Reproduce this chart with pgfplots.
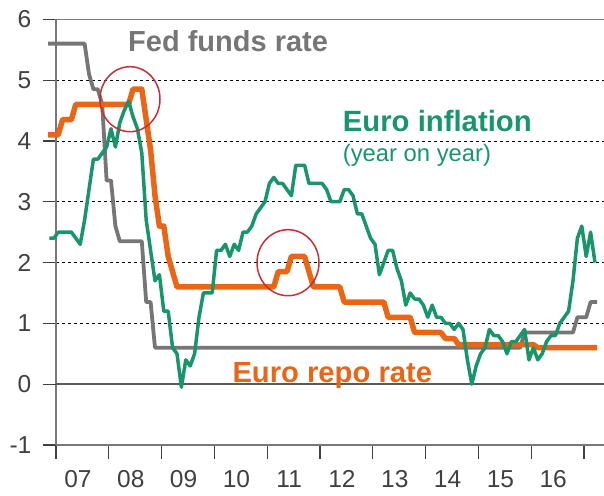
\documentclass[border=0pt]{standalone}
\usepackage{pgfplots}
\pgfplotsset{compat=1.18}
\usepackage{fontspec}
\setmainfont{Liberation Sans}
\definecolor{fedgray}{RGB}{118,118,118}
\definecolor{eurogreen}{RGB}{24,150,106}
\definecolor{repoorange}{RGB}{232,102,22}
\definecolor{circred}{RGB}{196,48,56}
\definecolor{axgray}{RGB}{120,120,120}
\definecolor{labgray}{RGB}{64,64,64}
\definecolor{zerogray}{RGB}{90,90,90}
\begin{document}
\begin{tikzpicture}
\begin{axis}[
  at={(56pt,50pt)}, anchor=south west,
  scale only axis, width=548pt, height=425.7pt,
  xmin=1.5, xmax=126.05, ymin=-1, ymax=6,
  axis x line=box, axis y line=left,
  axis line style={-, draw=axgray, line width=1.3pt},
  every outer x axis line/.append style={-},
  every outer y axis line/.append style={-},
  xtick={1.5,13.5,...,121.5}, xticklabels={,,,,,,,,,,,},
  xtick pos=bottom, ytick pos=left,
  ytick={-1,0,...,6},
  tick align=outside,
  major tick length=13.5pt,
  tick style={draw=labgray, line width=1.2pt},
  ymajorgrids,
  grid style={black, line width=0.7pt, dash pattern=on 3pt off 3pt},
  extra y ticks={0}, extra y tick labels={},
  extra y tick style={grid style={solid, draw=zerogray, line width=2pt}},
  extra x ticks={6.5,18.5,...,114.5},
  extra x tick labels={07,08,09,10,11,12,13,14,15,16},
  extra x tick style={major tick length=0pt, tick style={draw=none},
     xticklabel style={anchor=north, yshift=-25.5pt}},
  /pgf/number format/assume math mode=true,
  tick label style={font=\fontsize{24.5}{29}\selectfont, text=labgray, inner sep=0pt},
  yticklabel style={anchor=east, xshift=-11pt},
  clip=false,
]
% Fed funds rate
\addplot[fedgray, line width=3.8pt, line join=round] coordinates {
(-0.3,5.6) (8,5.6) (9,5.1) (10,4.85) (11,4.85) (12,4.6) (13,3.35) (14,3.35)
(15,2.6) (16,2.35) (21,2.35) (22,1.35) (23,1.35) (24,0.6) (107,0.6)
(108,0.85) (119,0.85) (120,1.1) (122,1.1) (123,1.35) (124.5,1.35)};
% Euro repo rate
\addplot[repoorange, line width=5.5pt, line join=round] coordinates {
(-0.3,4.1) (2,4.1) (3,4.35) (5,4.35) (6,4.6) (18,4.6) (19,4.85) (21,4.85)
(22,4.35) (23,3.85) (24,3.1) (25,2.6) (26,2.6) (27,2.1) (28,1.85) (29,1.6)
(51,1.6) (52,1.85) (54,1.85) (55,2.1) (58,2.1) (59,1.85) (60,1.6) (66,1.6)
(67,1.35) (76,1.35) (77,1.1) (82,1.1) (83,0.85) (89,0.85) (90,0.75) (92,0.75)
(93,0.65) (110,0.65) (111,0.6) (124.5,0.6)};
% Euro inflation
\addplot[eurogreen, line width=3.5pt, line join=round] table {
t v
0 2.4
1 2.4
2 2.5
3 2.5
4 2.5
5 2.5
6 2.4
7 2.3
8 2.7
9 3.2
10 3.7
11 3.7
12 3.8
13 3.9
14 4.2
15 3.9
16 4.3
17 4.5
18 4.65
19 4.4
20 4.2
21 3.8
22 2.7
23 2.2
24 1.7
25 1.8
26 1.2
27 1.2
28 0.6
29 0.5
30 -0.05
31 0.4
32 0.3
33 0.5
34 1.1
35 1.5
36 1.5
37 1.5
38 2.2
39 2.2
40 2.3
41 2.1
42 2.3
43 2.2
44 2.5
45 2.5
46 2.6
47 2.8
48 2.9
49 3.0
50 3.3
51 3.4
52 3.3
53 3.3
54 3.2
55 3.1
56 3.6
57 3.6
58 3.6
59 3.3
60 3.3
61 3.3
62 3.3
63 3.2
64 3.0
65 3.0
66 3.0
67 3.2
68 3.2
69 3.1
70 2.8
71 2.8
72 2.6
73 2.4
74 2.3
75 1.8
76 2.0
77 2.2
78 2.2
79 1.9
80 1.7
81 1.3
82 1.5
83 1.4
84 1.4
85 1.3
86 1.1
87 1.3
88 1.1
89 1.1
90 1.0
91 1.0
92 0.9
93 1.0
94 0.9
95 0.4
96 0.0
97 0.3
98 0.5
99 0.6
100 0.9
101 0.8
102 0.8
103 0.7
104 0.5
105 0.7
106 0.7
107 0.8
108 0.9
109 0.4
110 0.6
111 0.4
112 0.5
113 0.7
114 0.8
115 0.8
116 1.0
117 1.1
118 1.2
119 1.7
120 2.4
121 2.6
122 2.1
123 2.5
124 2.0
};
\end{axis}
% annotation circles
\draw[circred, line width=1.5pt] (130pt,395.8pt) ellipse [x radius=30pt, y radius=32.5pt];
\draw[circred, line width=1.5pt] (288pt,232.3pt) ellipse [x radius=31pt, y radius=33pt];
% series labels
\node[anchor=base west, inner sep=0pt, text=fedgray, font=\fontsize{29}{34}\selectfont\bfseries] at (128pt,443.3pt) {Fed funds rate};
\node[anchor=base west, inner sep=0pt, text=eurogreen, font=\fontsize{29.3}{34}\selectfont\bfseries] at (342.7pt,363.3pt) {Euro inflation};
\node[anchor=base west, inner sep=0pt, text=eurogreen, font=\fontsize{23.8}{28}\selectfont] at (342.7pt,333pt) {(year on year)};
\node[anchor=base west, inner sep=0pt, text=repoorange, font=\fontsize{29.2}{34}\selectfont\bfseries] at (232.3pt,113pt) {Euro repo rate};
\pgfresetboundingbox
\path[use as bounding box] (0pt,0pt) rectangle (604pt,495pt);
\end{tikzpicture}
\end{document}
